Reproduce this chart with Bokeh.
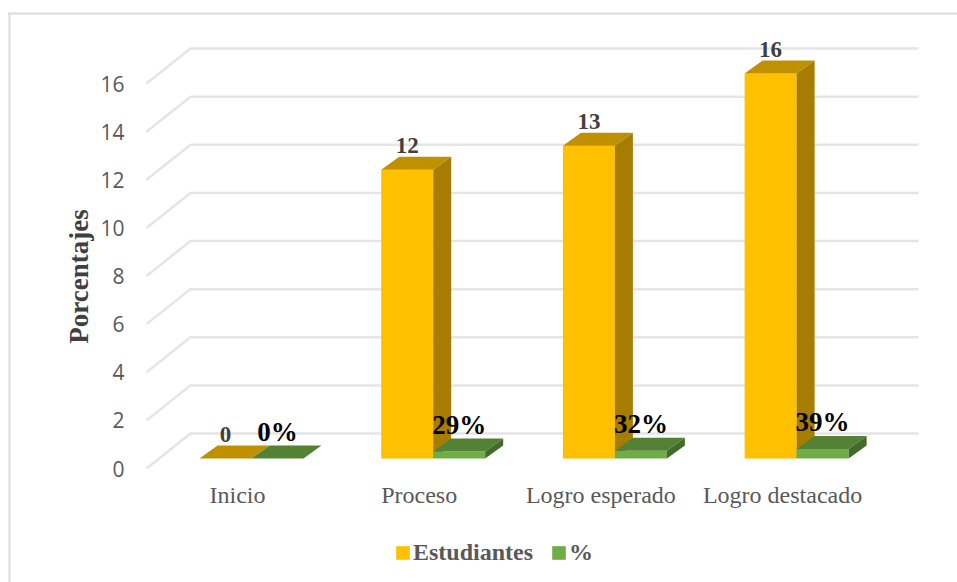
from math import pi
from bokeh.plotting import figure
from bokeh.models import Range1d, FixedTicker, Legend, LegendItem, BoxAnnotation
from bokeh.core.properties import value
from bokeh.embed import file_html
from bokeh.resources import INLINE

categories = ["Inicio", "Proceso", "Logro esperado", "Logro destacado"]
estudiantes = [0, 12, 13, 16]
porcentaje = [0.0, 0.29, 0.32, 0.39]
pct_labels = ["0%", "29%", "32%", "39%"]
y_ticks = [0, 2, 4, 6, 8, 10, 12, 14, 16]
y_title = "Porcentajes"

SERIF = "Liberation Serif"
SX, SY = 181.7, 24.06      # pixels per data unit
W, H = 957, 582
X_ORIGIN, Y_ORIGIN = 237, 468   # canvas position of category 0 / value 0

def px(n):
    return n / SX

def py(n):
    return n / SY

def cx(n):
    return (n - X_ORIGIN) / SX

BASE = py(10)
BAR_W = px(52)
DX, DY = px(18), py(13)

p = figure(width=W, height=H, output_backend="svg", toolbar_location=None,
           x_range=Range1d(cx(0), cx(W)), y_range=Range1d(py(Y_ORIGIN - H), py(Y_ORIGIN)),
           min_border=0, min_border_left=0, min_border_right=0, min_border_top=0, min_border_bottom=0)
p.outline_line_color = None
p.background_fill_color = "white"
p.border_fill_color = "white"
p.xgrid.visible = False
p.ygrid.visible = False

# axes
ya = p.yaxis[0]
ya.fixed_location = cx(130)
ya.ticker = FixedTicker(ticks=y_ticks)
ya.axis_line_color = None
ya.major_tick_line_color = None
ya.minor_tick_line_color = None
ya.major_label_text_font = "Open Sans"
ya.major_label_text_font_size = "21px"
ya.major_label_text_color = "#595959"
ya.major_label_standoff = 0

xa = p.xaxis[0]
xa.fixed_location = 0
xa.ticker = FixedTicker(ticks=list(range(len(categories))))
xa.major_label_overrides = {i: c for i, c in enumerate(categories)}
xa.axis_line_color = None
xa.major_tick_line_color = None
xa.minor_tick_line_color = None
xa.major_label_text_font = SERIF
xa.major_label_text_font_size = "24px"
xa.major_label_text_color = "#595959"
xa.major_label_standoff = 7

# y axis title
p.text([cx(78)], [py(Y_ORIGIN - 276)], text=[y_title], angle=pi / 2,
       text_font=value(SERIF), text_font_style="bold", text_font_size="27px",
       text_color="#404040", text_align="center", text_baseline="middle")

# gridlines on the back wall and side wall
gx0, gx1, gx2 = cx(146), cx(190), cx(918)
gdy = py(35)
p.multi_line([[gx0, gx1, gx2] for _ in y_ticks],
             [[t, t + gdy, t + gdy] for t in y_ticks],
             line_color="#e5e5e5", line_width=2.5)

def bars(vals, offset, front, top, side):
    xs = [i + offset for i in range(len(vals))]
    tops = [v + BASE for v in vals]
    r = p.vbar(x=xs, top=tops, bottom=BASE, width=BAR_W, fill_color=front, line_color=None)
    p.patches([[x - BAR_W / 2, x + BAR_W / 2, x + BAR_W / 2 + DX, x - BAR_W / 2 + DX] for x in xs],
              [[t, t, t + DY, t + DY] for t in tops], fill_color=top, line_color=None)
    p.patches([[x + BAR_W / 2, x + BAR_W / 2 + DX, x + BAR_W / 2 + DX, x + BAR_W / 2] for x in xs],
              [[BASE, BASE + DY, t + DY, t] for t in tops], fill_color=side, line_color=None)
    return r, xs, tops

r1, xs1, tops1 = bars(estudiantes, px(-12), "#FFC000", "#BF9000", "#A67D00")
r2, xs2, tops2 = bars(porcentaje, px(40), "#70AD47", "#548235", "#436A2A")

# data labels
p.text(xs1, [t + py(24) for t in tops1], text=[str(v) for v in estudiantes],
       text_font=value(SERIF), text_font_style="bold", text_font_size="23px",
       text_color="#404040", text_align="center", text_baseline="middle")
p.text(xs2, [t + py(27) for t in tops2], text=pct_labels,
       text_font=value(SERIF), text_font_style="bold", text_font_size="27px",
       text_color="#000000", text_align="center", text_baseline="middle")

# legend
legend = Legend(items=[LegendItem(label="Estudiantes", renderers=[r1]),
                       LegendItem(label="%", renderers=[r2])],
                orientation="horizontal", location=(394, 582 - 566),
                background_fill_alpha=0, border_line_color=None,
                label_text_font=SERIF, label_text_font_style="bold",
                label_text_font_size="24px", label_text_color="#595959",
                glyph_width=17, glyph_height=17, spacing=17, label_standoff=2, padding=0, margin=0)
p.add_layout(legend, "center")

# chart-area border: only top and left edges show
p.add_layout(BoxAnnotation(left=cx(8), right=cx(W), top=py(Y_ORIGIN - 12), bottom=py(Y_ORIGIN - 14),
                           fill_color="#dcdcdc", fill_alpha=1, line_color=None, editable=False))
p.add_layout(BoxAnnotation(left=cx(8), right=cx(10), top=py(Y_ORIGIN - 12), bottom=py(Y_ORIGIN - H),
                           fill_color="#dcdcdc", fill_alpha=1, line_color=None, editable=False))

open("out.html", "w").write(file_html(p, INLINE))
